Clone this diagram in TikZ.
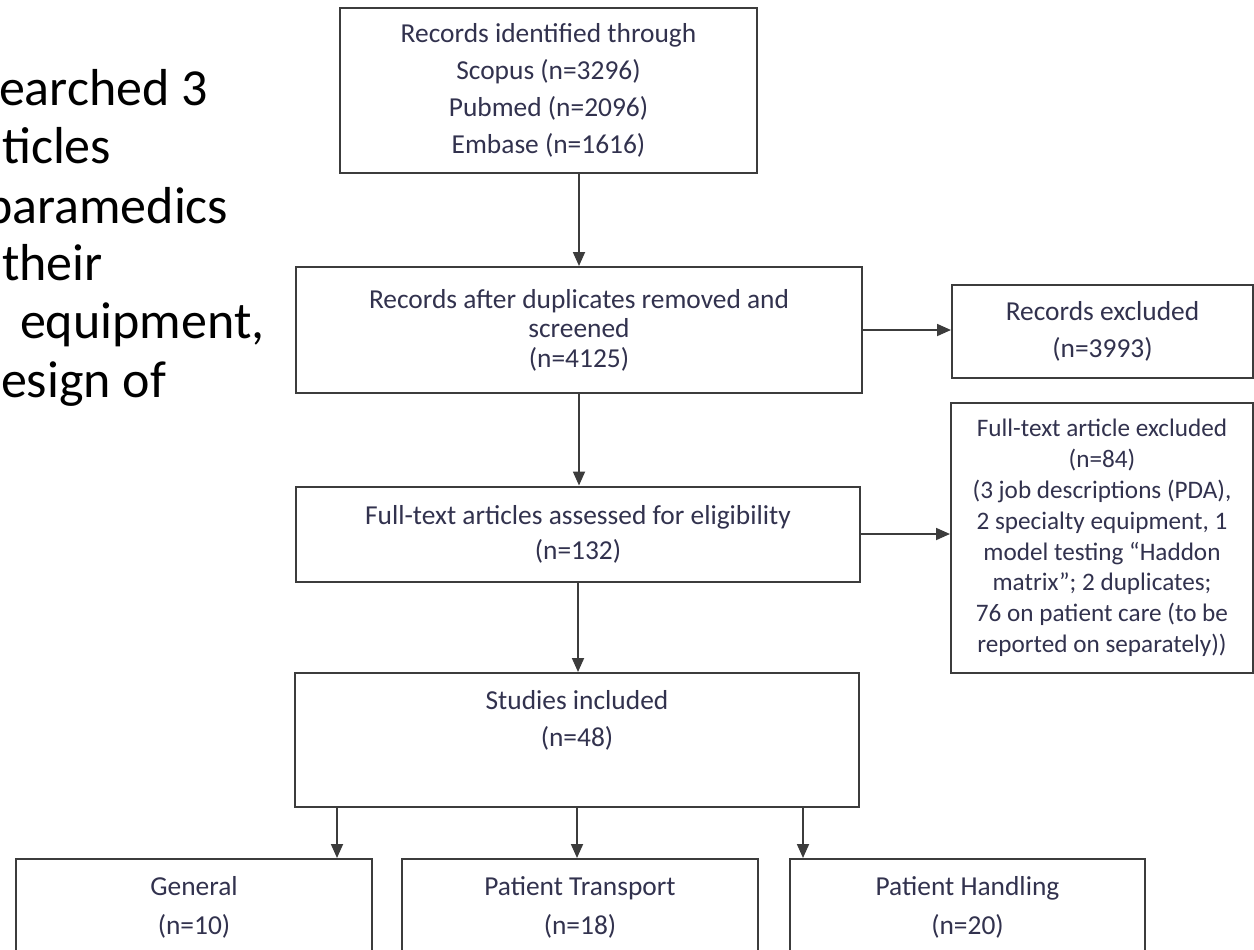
\documentclass[tikz,border=0pt]{standalone}
\usepackage{fontspec}
\setmainfont{Carlito}
\usetikzlibrary{arrows.meta}

\definecolor{linec}{RGB}{60,60,60}
\definecolor{txtc}{RGB}{50,50,78}

\tikzset{
  box/.style={draw=linec, line width=1pt, fill=white, align=center,
    inner sep=2pt, text=txtc, font=\fontsize{13.7}{18.5}\selectfont},
  arr/.style={draw=linec, line width=0.9pt, -{Triangle[length=7pt,width=6pt]}},
  side/.style={anchor=base west, font=\fontsize{26}{29}\selectfont}
}

\begin{document}
\begin{tikzpicture}[x=0.5pt,y=-0.5pt]
  \useasboundingbox (0,0) rectangle (1254,949);
  % text cut off at the left
  \node[side] (srch) at (-8,105) {earched 3};
  \node[side] (arts) at (-5,163) {ticles};
  \node[side] (para) at (-22,223) {paramedics};
  \node[side] (thr) at (-5,280) {their};
  \node[side] (equip) at (13,338) {equipment,};
  \node[side] (dsgn) at (-6,397) {esign of};
  % flow boxes
  \node[box, minimum width=208.5pt, minimum height=82.5pt] (ident) at (548.5,90.5)
    {Records identified through\\Scopus (n=3296)\\Pubmed (n=2096)\\Embase (n=1616)};
  \node[box, minimum width=283pt, minimum height=63pt,
    font=\fontsize{13.7}{14.8}\selectfont] (screen) at (579,330)
    {Records after duplicates removed and\\screened\\(n=4125)};
  \node[box, minimum width=150.5pt, minimum height=46.5pt] (excl1) at (1102.5,331.5)
    {Records excluded\\(n=3993)};
  \node[box, minimum width=282pt, minimum height=47.5pt,
    font=\fontsize{13.7}{17.5}\selectfont] (assess) at (578,534)
    {Full-text articles assessed for eligibility\\(n=132)};
  \node[box, minimum width=151pt, minimum height=135pt,
    font=\fontsize{12.6}{15.4}\selectfont] (excl2) at (1102,538)
    {Full-text article excluded\\(n=84)\\(3 job descriptions (PDA),\\2 specialty equipment, 1\\model testing “Haddon\\matrix”; 2 duplicates;\\76 on patient care (to be\\reported on separately))};
  \node[box, minimum width=282pt, minimum height=67pt, text depth=22pt] (incl) at (577,740)
    {Studies included\\(n=48)};
  \node[box, minimum width=178pt, minimum height=48.5pt,
    font=\fontsize{13.7}{19.5}\selectfont] (gen) at (194,907.5)
    {General\\(n=10)};
  \node[box, minimum width=178pt, minimum height=48.5pt,
    font=\fontsize{13.7}{19.5}\selectfont] (trans) at (580,907.5)
    {Patient Transport\\(n=18)};
  \node[box, minimum width=177.5pt, minimum height=48.5pt,
    font=\fontsize{13.7}{19.5}\selectfont] (hand) at (967.5,907.5)
    {Patient Handling\\(n=20)};
  % connectors
  \draw[arr] (ident.south -| screen.north) -- (screen.north);
  \draw[arr] (screen.east) -- (screen.east -| excl1.west);
  \draw[arr] (screen.south) -- (screen.south |- assess.north);
  \draw[arr] (assess.east) -- (assess.east -| excl2.west);
  \draw[arr] (assess.south) -- (assess.south |- incl.north);
  \draw[arr] ([xshift=-120pt]incl.south) -- ([xshift=-120pt]incl.south |- gen.north);
  \draw[arr] (incl.south) -- (incl.south |- trans.north);
  \draw[arr] ([xshift=113pt]incl.south) -- ([xshift=113pt]incl.south |- hand.north);
\end{tikzpicture}
\end{document}
